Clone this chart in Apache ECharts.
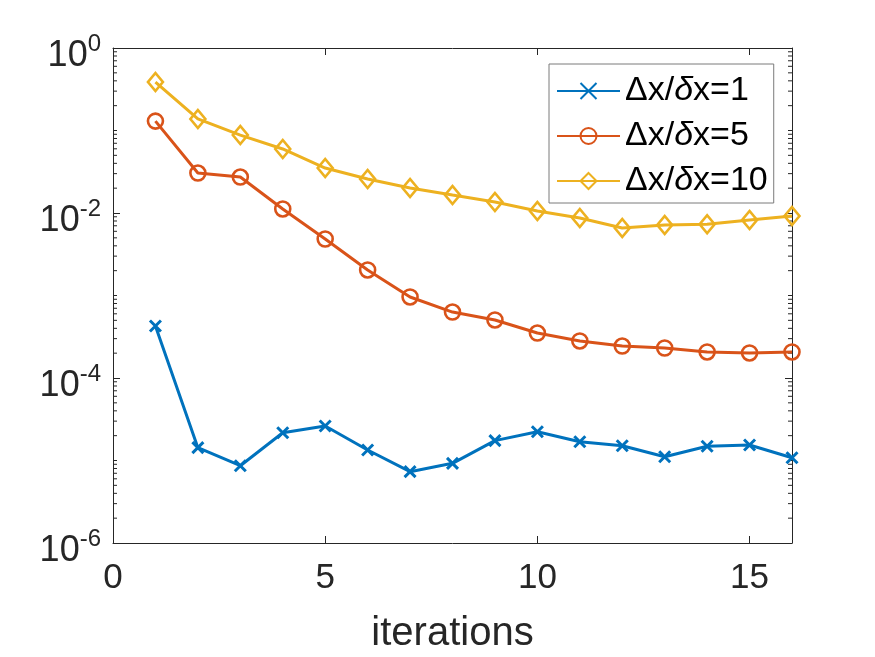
<!DOCTYPE html>
<html>
<head>
<meta charset="utf-8">
<script src="https://cdn.jsdelivr.net/npm/echarts@6/dist/echarts.min.js"></script>
<style>html,body{margin:0;padding:0;background:#fff}#c{width:875px;height:657px}</style>
</head>
<body>
<div id="c"></div>
<script>
const iterations = [1,2,3,4,5,6,7,8,9,10,11,12,13,14,15,16];
const seriesNames = ['Δx/δx=1', 'Δx/δx=5', 'Δx/δx=10'];
const dx1 = [4.27e-4, 1.43e-5, 8.65e-6, 2.17e-5, 2.62e-5, 1.34e-5, 7.32e-6, 9.24e-6, 1.74e-5, 2.23e-5, 1.69e-5, 1.51e-5, 1.11e-5, 1.49e-5, 1.54e-5, 1.08e-5];
const dx5 = [0.130, 0.0305, 0.0273, 0.0112, 0.00484, 0.00204, 0.00096, 0.00063, 0.000505, 0.000351, 0.000281, 0.000244, 0.000231, 0.000207, 0.000201, 0.000207];
const dx10 = [0.387, 0.138, 0.088, 0.0597, 0.0351, 0.0258, 0.0201, 0.0165, 0.0136, 0.01057, 0.00869, 0.00658, 0.00716, 0.0073, 0.00823, 0.0092];
const xTicks = [0, 5, 10, 15];
const yTickExponents = [-6, -4, -2, 0];
const minorMantissas = [1,2,3,4,5,6,7,8,9];
const minorDecades = [-6,-5,-4,-3,-2,-1];

const minorTickValues = [];
minorDecades.forEach(d => minorMantissas.forEach(m => {
  if (!(m === 1 && d % 2 === 0)) minorTickValues.push(m * Math.pow(10, d));
}));

const AX = '#262626';
const FONT = 'Liberation Sans, Arial, Helvetica, sans-serif';
const colors = ['#0072BD', '#D95319', '#EDB120'];

function pairs(arr){ return iterations.map((x,i)=>[x, arr[i]]); }

const chart = echarts.init(document.getElementById('c'), null, {renderer:'canvas'});
const lw = 3;
chart.setOption({
  animation: false,
  backgroundColor: '#fff',
  textStyle: {fontFamily: FONT},
  grid: {left: 113, right: 83, top: 48, bottom: 114, containLabel: false, outerBoundsMode: 'none'},
  xAxis: [{
    type: 'value', min: 0, max: 16, interval: 5,
    axisLine: {show: true, onZero: false, lineStyle: {color: AX, width: 1}},
    axisTick: {show: true, inside: true, length: 7, lineStyle: {color: AX}},
    axisLabel: {color: AX, fontSize: 35, fontFamily: FONT, margin: 18,
      formatter: v => (xTicks.indexOf(v) >= 0 ? String(v) : '')},
    splitLine: {show: false},
    name: 'iterations', nameLocation: 'middle', nameGap: 71,
    nameTextStyle: {color: AX, fontSize: 40, fontFamily: FONT}
  }, {
    type: 'value', min: 0, max: 16, interval: 5, position: 'top',
    axisLine: {show: true, onZero: false, lineStyle: {color: AX, width: 1}},
    axisTick: {show: true, inside: true, length: 7, lineStyle: {color: AX}},
    axisLabel: {show: false}, splitLine: {show: false}
  }],
  yAxis: [{
    type: 'log', logBase: 10, min: 1e-6, max: 1, interval: 2,
    axisLine: {show: true, onZero: false, lineStyle: {color: AX, width: 1}},
    axisTick: {show: true, inside: true, length: 7, lineStyle: {color: AX}},
    splitLine: {show: false},
    axisLabel: {
      color: AX, margin: 12, fontFamily: FONT, padding: [10, 0, 0, 0],
      formatter: v => {
        const e = Math.round(Math.log10(v));
        if (yTickExponents.indexOf(e) < 0) return '';
        return '{b|10}{s|' + e + '}';
      },
      rich: {
        b: {fontSize: 36, lineHeight: 42, verticalAlign: 'bottom', color: AX, fontFamily: FONT},
        s: {fontSize: 24, lineHeight: 24, verticalAlign: 'top', color: AX, fontFamily: FONT}
      }
    }
  }, {
    type: 'log', logBase: 10, min: 1e-6, max: 1, interval: 2, position: 'right',
    axisLine: {show: true, onZero: false, lineStyle: {color: AX, width: 1}},
    axisTick: {show: true, inside: true, length: 7, lineStyle: {color: AX}},
    axisLabel: {show: false}, splitLine: {show: false}
  }],
  legend: {
    data: seriesNames,
    orient: 'vertical', left: 549, top: 64,
    padding: [10, 6, 5, 7], itemGap: 11, itemWidth: 63, itemHeight: 20,
    backgroundColor: '#fff', borderColor: '#7a7a7a', borderWidth: 1,
    textStyle: {color: '#000', fontSize: 34, lineHeight: 34, fontFamily: FONT,
      rich: {d: {fontStyle: 'italic', fontSize: 34, color: '#000', fontFamily: FONT}}},
    formatter: name => name.replace('δ', '{d|δ}')
  },
  series: [
    {
      name: seriesNames[0], type: 'line', data: pairs(dx1),
      symbol: 'path://M0,0L10,10M10,0L0,10', symbolSize: 11,
      lineStyle: {color: colors[0], width: lw},
      itemStyle: {color: colors[0], borderColor: colors[0], borderWidth: 3},
      z: 3
    },
    {
      name: seriesNames[1], type: 'line', data: pairs(dx5),
      symbol: 'circle', symbolSize: 15,
      lineStyle: {color: colors[1], width: lw},
      itemStyle: {color: 'rgba(0,0,0,0)', borderColor: colors[1], borderWidth: 2.6},
      z: 3
    },
    {
      name: seriesNames[2], type: 'line', data: pairs(dx10),
      symbol: 'diamond', symbolSize: [15, 18],
      lineStyle: {color: colors[2], width: lw},
      itemStyle: {color: 'rgba(0,0,0,0)', borderColor: colors[2], borderWidth: 2.6},
      z: 3
    },
    {
      name: 'minorTicks', type: 'custom', silent: true, clip: false, z: 1,
      data: minorTickValues.map(v => [0, v]),
      renderItem: (params, api) => {
        const v = api.value(1);
        const pL = api.coord([0, v]);
        const pR = api.coord([16, v]);
        return {type: 'group', children: [
          {type: 'line', shape: {x1: pL[0], y1: pL[1], x2: pL[0] + 4, y2: pL[1]}, style: {stroke: AX, lineWidth: 1}},
          {type: 'line', shape: {x1: pR[0], y1: pR[1], x2: pR[0] - 4, y2: pR[1]}, style: {stroke: AX, lineWidth: 1}}
        ]};
      }
    }
  ]
});
</script>
</body>
</html>
